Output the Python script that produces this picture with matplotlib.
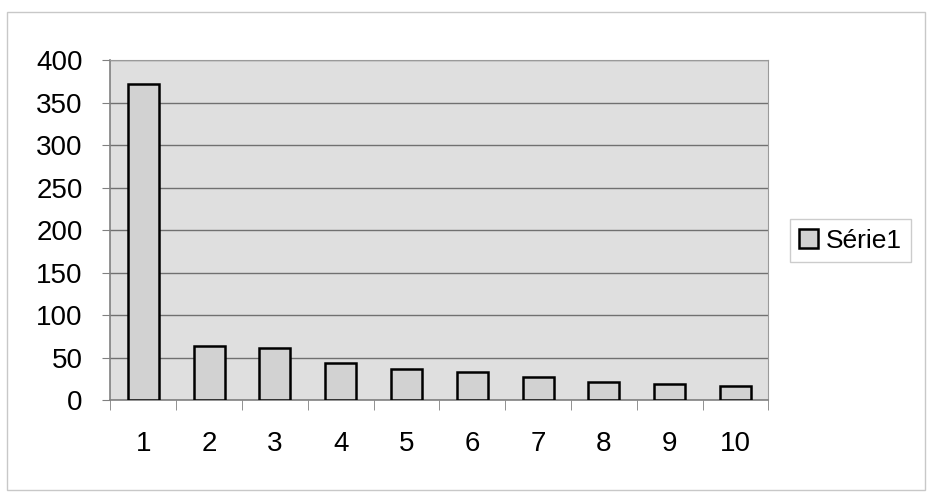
import numpy as np
import matplotlib.pyplot as plt
from matplotlib.patches import Rectangle

# valeurs
categories = [1, 2, 3, 4, 5, 6, 7, 8, 9, 10]
serie1 = [372, 64, 61, 44, 36, 33, 27, 21, 19, 17]
yticks = [0, 50, 100, 150, 200, 250, 300, 350, 400]

plt.rcParams['font.family'] = ['Liberation Sans', 'DejaVu Sans']

fig = plt.figure(figsize=(9.27, 4.97), dpi=100)
fig.patch.set_facecolor('white')
# cadre de la zone de graphique
fig.patches.append(Rectangle((0.008, 0.015), 0.99, 0.96, transform=fig.transFigure,
                             fill=False, edgecolor='#c8c8c8', linewidth=1.0))

ax = fig.add_axes([0.119, 0.195, 0.710, 0.684])
ax.set_facecolor('#dfdfdf')

bars = ax.bar(categories, serie1, width=0.47, color='#d2d2d2',
              edgecolor='black', linewidth=1.8, label='Série1', zorder=3)

ax.set_xlim(0.5, 10.5)
ax.set_ylim(0, 400)
ax.set_yticks(yticks)
ax.yaxis.grid(True, color='#707070', linewidth=1.0, zorder=0)
ax.set_axisbelow(True)

# ticks de catégories entre les barres
ax.set_xticks(categories)
ax.set_xticks(np.arange(0.5, 11, 1), minor=True)
ax.tick_params(axis='x', which='major', length=0, pad=22, labelsize=20)
ax.tick_params(axis='x', which='minor', length=7, color='#808080', direction='out')
ax.tick_params(axis='y', length=6, color='#808080', labelsize=20, pad=14)

for s in ['top', 'right']:
    ax.spines[s].set_color('#9a9a9a')
for s in ['left', 'bottom']:
    ax.spines[s].set_color('#808080')
    ax.spines[s].set_linewidth(1.2)

leg = fig.legend(handles=[bars], labels=['Série1'], loc='center left',
                 bbox_to_anchor=(0.852, 0.516), fontsize=19, frameon=True,
                 fancybox=False, edgecolor='#c0c0c0', handlelength=0.7,
                 handleheight=0.7, handletextpad=0.3, borderpad=0.35,
                 borderaxespad=0)
leg.get_frame().set_linewidth(1.0)

fig.savefig('out.png', dpi=100)
